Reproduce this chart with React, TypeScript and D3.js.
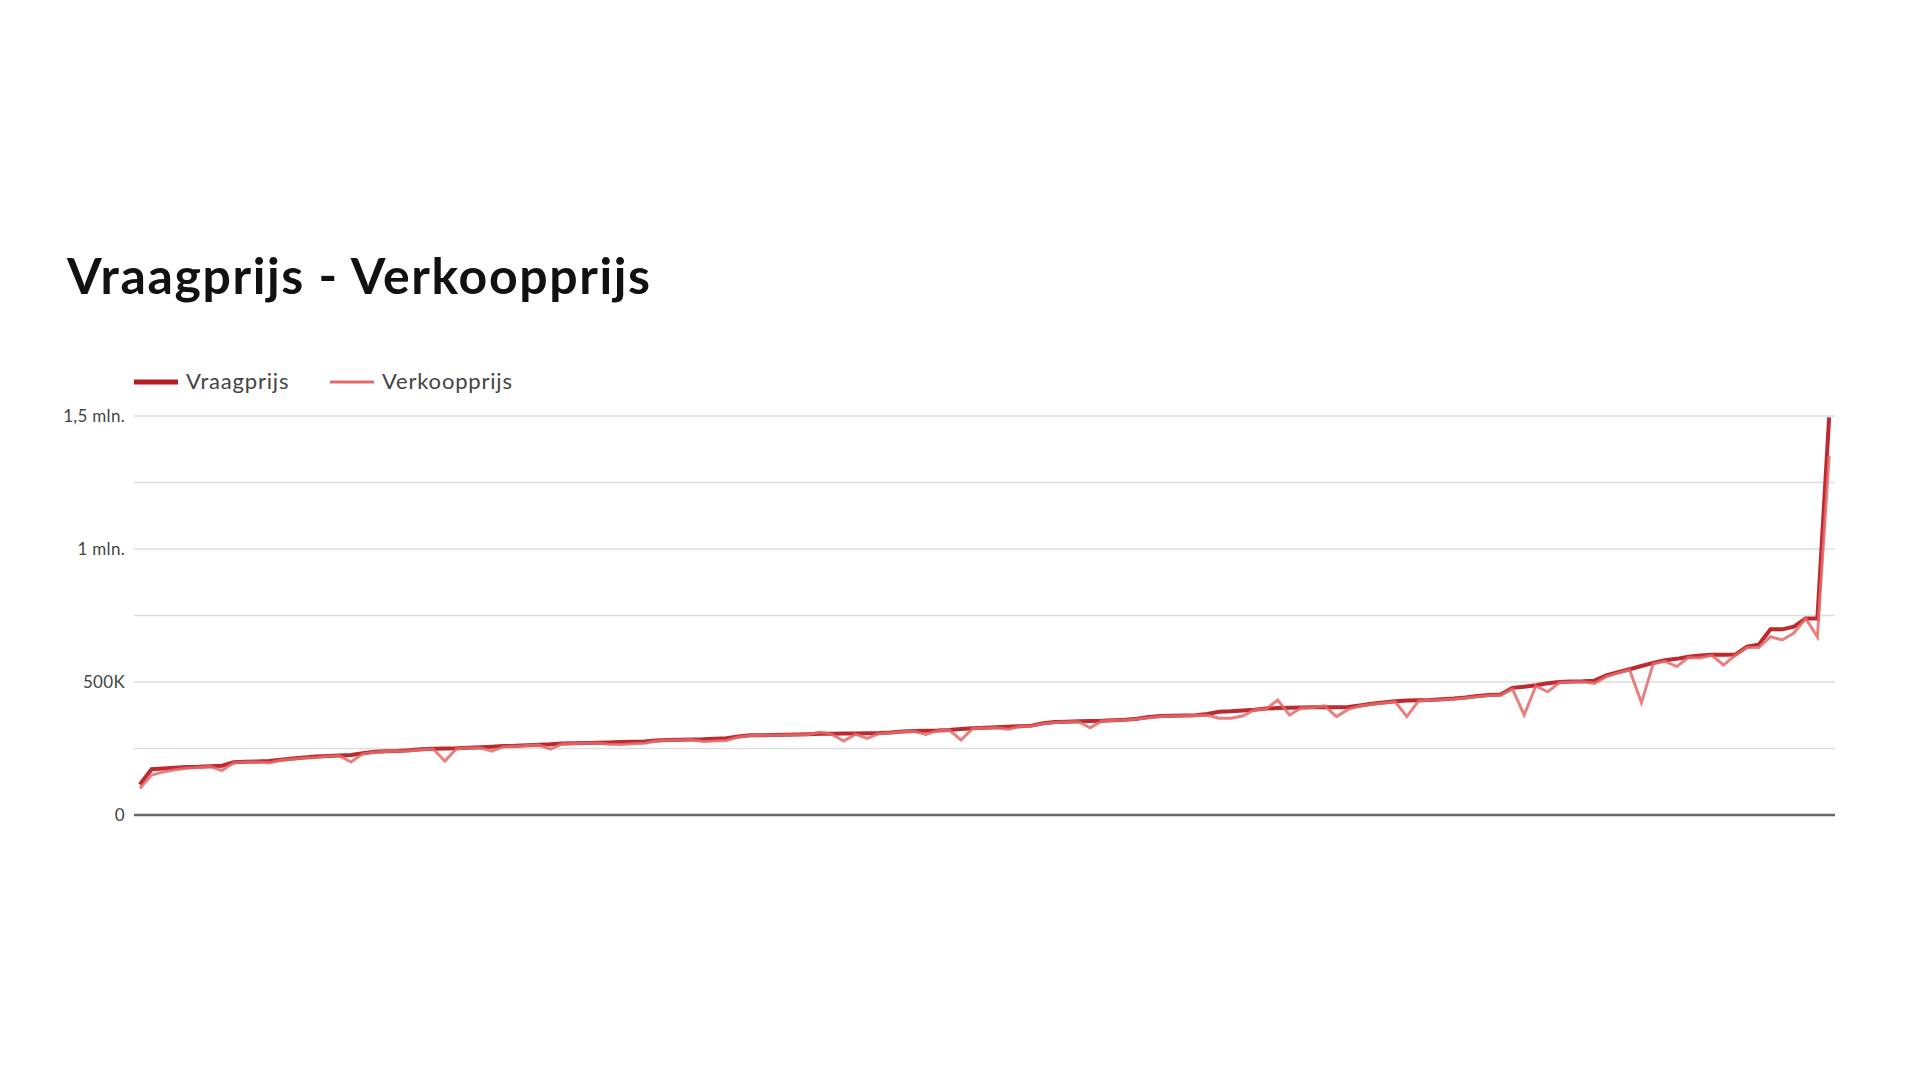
import React from "react";
import * as d3 from "d3";

const title = "Vraagprijs - Verkoopprijs";
const seriesNames = ["Vraagprijs", "Verkoopprijs"];
const yTicks = [0, 250000, 500000, 750000, 1000000, 1250000, 1500000];
const yTickLabels: Record<number, string> = { 0: "0", 500000: "500K", 1000000: "1 mln.", 1500000: "1,5 mln." };

const vraagprijs = [
  115000, 172000, 175000, 178000, 180000, 181000, 183000, 185000, 198000, 200000,
  201000, 203000, 208000, 212000, 216000, 220000, 222000, 224000, 226000, 232000,
  238000, 240000, 241000, 243000, 247000, 249000, 250000, 251000, 253000, 255000,
  257000, 259000, 260000, 262000, 264000, 266000, 269000, 270000, 271000, 272000,
  273000, 274000, 275000, 276000, 280000, 282000, 283000, 284000, 285000, 287000,
  289000, 295000, 300000, 300000, 301000, 302000, 303000, 304000, 305000, 305000,
  306000, 306000, 307000, 308000, 310000, 314000, 316000, 317000, 318000, 320000,
  323000, 326000, 328000, 330000, 332000, 334000, 336000, 345000, 350000, 351000,
  352000, 353000, 354000, 356000, 358000, 362000, 368000, 372000, 373000, 374000,
  375000, 380000, 388000, 390000, 393000, 396000, 400000, 402000, 403000, 404000,
  405000, 405000, 405000, 406000, 412000, 418000, 423000, 428000, 430000, 431000,
  432000, 435000, 438000, 442000, 447000, 451000, 453000, 478000, 482000, 488000,
  495000, 500000, 502000, 503000, 505000, 525000, 537000, 548000, 560000, 572000,
  582000, 587000, 595000, 600000, 602000, 602000, 603000, 633000, 640000, 698000,
  698000, 708000, 739000, 739000, 1495000,
];

const verkoopprijs = [
  100000, 150000, 162000, 170000, 176000, 179000, 182000, 167000, 196000, 199000,
  199000, 196000, 206000, 210000, 214000, 216000, 221000, 223000, 199000, 230000,
  236000, 239000, 240000, 242000, 245000, 248000, 203000, 249000, 252000, 253000,
  240000, 257000, 258000, 261000, 263000, 248000, 267000, 269000, 270000, 271000,
  266000, 265000, 268000, 270000, 278000, 281000, 282000, 283000, 276000, 278000,
  280000, 293000, 299000, 300000, 300000, 301000, 302000, 303000, 312000, 303000,
  278000, 304000, 288000, 306000, 309000, 313000, 315000, 303000, 317000, 319000,
  282000, 325000, 327000, 328000, 322000, 333000, 335000, 343000, 348000, 350000,
  351000, 328000, 353000, 355000, 357000, 361000, 366000, 370000, 372000, 373000,
  374000, 375000, 364000, 364000, 372000, 395000, 399000, 432000, 376000, 402000,
  404000, 410000, 370000, 397000, 410000, 416000, 421000, 426000, 370000, 429000,
  431000, 433000, 436000, 440000, 445000, 449000, 451000, 474000, 376000, 485000,
  463000, 497000, 500000, 501000, 495000, 520000, 534000, 545000, 422000, 568000,
  578000, 558000, 592000, 590000, 600000, 564000, 600000, 630000, 630000, 670000,
  658000, 684000, 739000, 670000, 1350000,
];

const DARK = "#b81d24";
const LIGHT = "#e46a6a";

export default function App() {
  const W = 1920;
  const H = 1080;
  const left = 134;
  const right = 1835;
  const top = 416;
  const bottom = 815;

  const idx = d3.range(vraagprijs.length);
  const x = d3.scalePoint<number>().domain(idx).range([left, right]).padding(0.5);
  const y = d3.scaleLinear().domain([0, 1500000]).range([bottom, top]);

  const line = (vals: number[]) =>
    d3
      .line<number>()
      .x((_, i) => x(i) as number)
      .y((d) => y(d))(vals) as string;

  const font = "Lato, 'Open Sans', sans-serif";

  return (
    <svg width={W} height={H} style={{ display: "block", position: "absolute", left: 0, top: 0 }}>
      <rect width={W} height={H} fill="#ffffff" />
      <text x={67} y={294} fontFamily={font} fontWeight={700} fontSize={50} letterSpacing={1.6} fill="#111">
        {title}
      </text>

      {/* legend */}
      <g fontFamily={font} fontSize={22} letterSpacing={0.8} fill="#444">
        <line x1={134} x2={178} y1={382} y2={382} stroke={DARK} strokeWidth={5} />
        <text x={186} y={389}>{seriesNames[0]}</text>
        <line x1={330} x2={374} y1={382} y2={382} stroke={LIGHT} strokeWidth={3} />
        <text x={382} y={389}>{seriesNames[1]}</text>
      </g>

      {/* grid */}
      {yTicks.map((t) => (
        <g key={t}>
          {t !== 0 && (
            <line x1={left} x2={right} y1={y(t)} y2={y(t)} stroke="#dedede" strokeWidth={1.5} />
          )}
          {yTickLabels[t] !== undefined && (
            <text
              x={125}
              y={y(t) + 6}
              textAnchor="end"
              fontFamily={font}
              fontSize={17}
              letterSpacing={0.3}
              fill="#444"
            >
              {yTickLabels[t]}
            </text>
          )}
        </g>
      ))}

      <path d={line(vraagprijs)} fill="none" stroke={DARK} strokeWidth={4} strokeOpacity={0.95} strokeLinejoin="miter" />
      <path d={line(verkoopprijs)} fill="none" stroke={LIGHT} strokeWidth={3} strokeOpacity={0.85} strokeLinejoin="miter" />

      <line x1={left} x2={right} y1={y(0)} y2={y(0)} stroke="#666" strokeWidth={2.5} />
    </svg>
  );
}
